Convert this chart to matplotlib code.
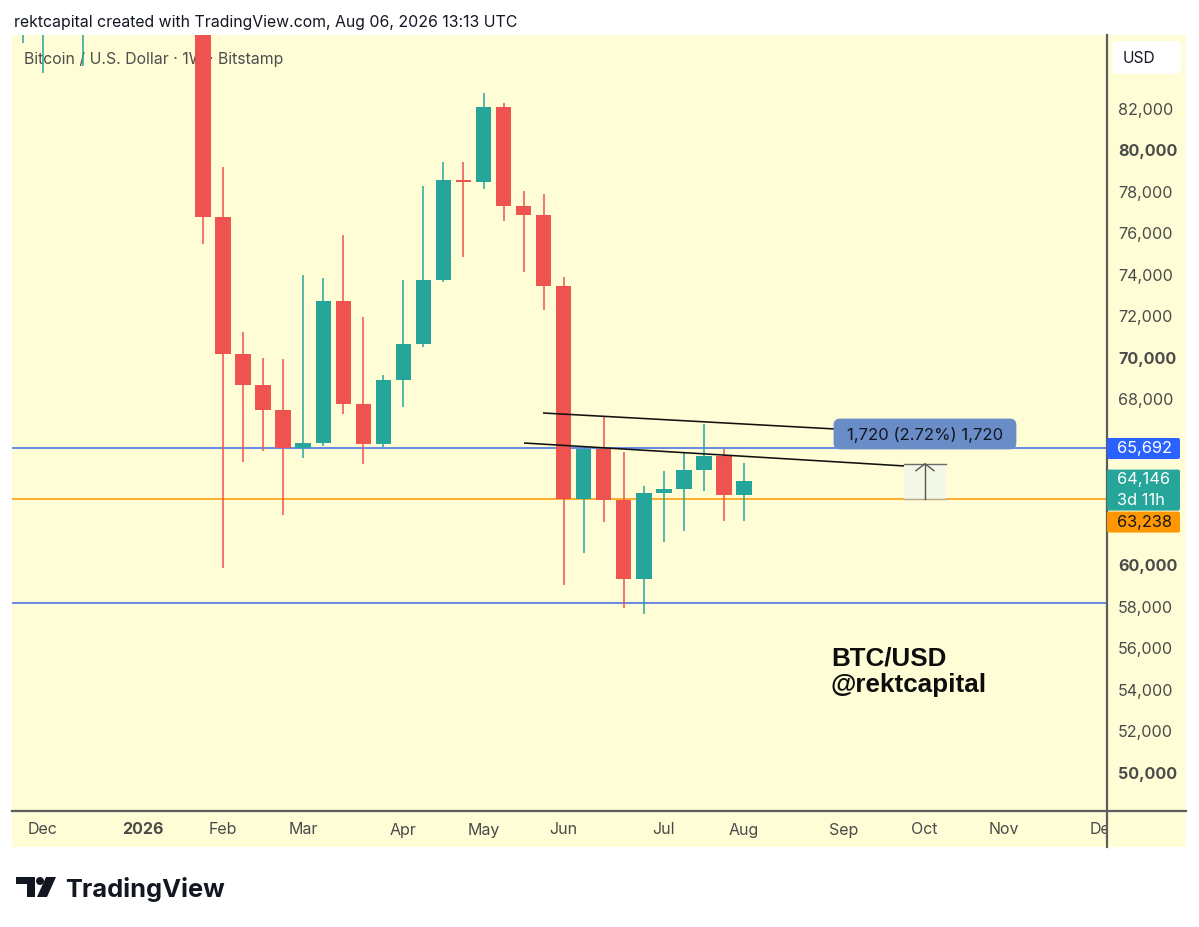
import matplotlib
matplotlib.use("Agg")
import matplotlib.pyplot as plt
from matplotlib.patches import Rectangle, FancyBboxPatch, Polygon, Circle
import numpy as np
import pandas as pd

# ---------------- data ----------------
week_start = ["2025-11-24", "2025-12-01", "2025-12-15", "2026-01-26",
              "2026-02-02", "2026-02-09", "2026-02-16", "2026-02-23",
              "2026-03-02", "2026-03-09", "2026-03-16", "2026-03-23", "2026-03-30",
              "2026-04-06", "2026-04-13", "2026-04-20", "2026-04-27",
              "2026-05-04", "2026-05-11", "2026-05-18", "2026-05-25",
              "2026-06-01", "2026-06-08", "2026-06-15", "2026-06-22", "2026-06-29",
              "2026-07-06", "2026-07-13", "2026-07-20", "2026-07-27", "2026-08-03"]
open_ = [87400, 86800, 86400, 89000,
         76870, 70250, 68750, 67550,
         65720, 65960, 72800, 67840, 65910,
         68990, 70730, 73810, 78630,
         78540, 82150, 77380, 76950,
         73530, 63238, 65670, 63210, 59400,
         63550, 63740, 64660, 65330, 63450]
high = [93000, 94000, 90000, 90500,
        79260, 71310, 70050, 70010,
        74060, 73910, 75980, 72030, 69240,
        73810, 78350, 79500, 79500,
        82830, 82350, 78100, 77960,
        73960, 65700, 67260, 65520, 63890,
        64610, 65480, 66870, 65670, 64990]
low = [85240, 83790, 84130, 75550,
       59930, 65040, 65570, 62490,
       65230, 65810, 67360, 64950, 65760,
       67690, 70590, 73720, 74920,
       78200, 76660, 74200, 72370,
       59110, 60660, 62150, 58000, 57720,
       61190, 61720, 63640, 62200, 62200]
close = [90300, 89600, 88200, 76870,
         70250, 68750, 67550, 65720,
         65960, 72800, 67840, 65910, 68990,
         70730, 73810, 78630, 78540,
         82150, 77380, 76950, 73530,
         63238, 65670, 63210, 59400, 63550,
         63740, 64660, 65330, 63450, 64146]

price_ticks = [50000, 52000, 54000, 56000, 58000, 60000, 62000, 64000, 66000,
               68000, 70000, 72000, 74000, 76000, 78000, 80000, 82000]
bold_ticks = [50000, 60000, 70000, 80000]

month_labels = ["Dec", "2026", "Feb", "Mar", "Apr", "May", "Jun", "Jul", "Aug",
                "Sep", "Oct", "Nov", "Dec"]
month_first_bar = ["2025-12-01", "2026-01-05", "2026-02-02", "2026-03-02", "2026-04-06",
                   "2026-05-04", "2026-06-01", "2026-07-06", "2026-08-03", "2026-09-07",
                   "2026-10-05", "2026-11-02", "2026-12-07"]

resistance_level = 65692
support_level = 58230
last_close_level = 63238
current_price = 64146
time_left = "3d 11h"

# trend lines: (bar index, price) endpoints
trend1_x = [19.97, 34.55]
trend1_y = [67403, 66632]
trend2_x = [19.02, 38.04]
trend2_y = [65957, 64849]
measure_from, measure_to = 63238, 64958
measure_x = [37.99, 40.09]
measure_text = "1,720 (2.72%) 1,720"

# ---------------- style ----------------
W, H = 1199, 927
BG = "#fefdd6"
RED = "#ef5350"
TEAL = "#26a69a"
BLUE = "#2962ff"
ORANGE = "#ff9800"
AXIS = "#5d5d5d"
TXT = "#4a4a4a"
FONT = ["Inter", "DejaVu Sans"]

plt.rcParams['font.family'] = FONT

fig = plt.figure(figsize=(W / 100, H / 100), dpi=100)
fig.patch.set_facecolor("white")


def fr(x0, y0, x1, y1):
    return [x0 / W, 1 - y1 / H, (x1 - x0) / W, (y1 - y0) / H]


# panel background (behind everything)
bgax = fig.add_axes([0, 0, 1, 1])
bgax.set_xlim(0, W)
bgax.set_ylim(H, 0)
bgax.axis("off")
bgax.set_zorder(-5)
bgax.add_patch(Rectangle((12, 35), 1186 - 12, 847 - 35, facecolor=BG, edgecolor="none"))

YMIN, YMAX = 48219, 85623
XMIN, XMAX = (12 - 143) / 20.03, (1107 - 143) / 20.03

ax = fig.add_axes(fr(12, 35, 1107, 811))
ax.set_facecolor("none")
ax.set_xlim(XMIN, XMAX)
ax.set_ylim(YMIN, YMAX)
ax.axis("off")
ax.set_zorder(1)

base = pd.Timestamp("2026-01-05")
idx = ((pd.to_datetime(week_start) - base).days / 7).to_numpy(dtype=float)
o = np.array(open_, float); h = np.array(high, float)
l = np.array(low, float); c = np.array(close, float)
cols = np.where(c >= o, TEAL, RED)

ax.vlines(idx, l, h, colors=cols, lw=1.1, zorder=3)
body = np.maximum(np.abs(c - o), 70)
ax.bar(idx, body, bottom=np.minimum(o, c), width=0.775, color=cols, linewidth=0, zorder=4)

# horizontal levels
ax.axhline(resistance_level, color="#3e6ae6", lw=1.1, zorder=2)
ax.axhline(support_level, color="#3e6ae6", lw=1.1, zorder=2)
ax.axhline(last_close_level, color=ORANGE, lw=1.1, zorder=2)

# trend lines
ax.plot(trend1_x, trend1_y, color="#111111", lw=1.15, zorder=5, solid_capstyle="butt")
ax.plot(trend2_x, trend2_y, color="#111111", lw=1.15, zorder=5, solid_capstyle="butt")

# measurement box
ax.add_patch(Rectangle((measure_x[0], measure_from), measure_x[1] - measure_x[0],
                       measure_to - measure_from, facecolor="#f3f7e6", edgecolor="none", zorder=5))
ax.plot(measure_x, [measure_to, measure_to], color="#6b6b6b", lw=1.0, zorder=6)
ax.plot(measure_x, [measure_from, measure_from], color="#b9a98a", lw=1.0, zorder=6)
mx = sum(measure_x) / 2
ax.plot([mx, mx], [measure_from, measure_to], color="#555555", lw=1.0, zorder=6)

# overlay in pixel coords
ov = fig.add_axes([0, 0, 1, 1])
ov.set_xlim(0, W)
ov.set_ylim(H, 0)
ov.axis("off")
ov.set_zorder(10)
fig.canvas.draw()


def to_px(x, y):
    dx, dy = ax.transData.transform((x, y))
    return dx, H - dy


# arrow head
ax_px, ay_px = to_px(mx, measure_to)
ov.plot([ax_px - 9, ax_px, ax_px + 9], [ay_px + 7, ay_px, ay_px + 7], color="#555555", lw=1.0)

# measure label
lx = ax_px
ov.add_patch(FancyBboxPatch((lx - 90, 420), 180, 28, boxstyle="round,pad=0,rounding_size=5",
                            facecolor="#6a8dc8", edgecolor="#6a8dc8", lw=2, zorder=3))
ov.text(lx, 435, measure_text, ha="center", va="center", fontsize=12, color="#131722", zorder=4)

# axis lines
ov.plot([1107, 1107], [35, 847], color=AXIS, lw=1.6)
ov.plot([12, 1186], [811, 811], color=AXIS, lw=1.6)


def price_box(y0, y1, color, lines, tcolor):
    ov.add_patch(FancyBboxPatch((1107, y0), 73, y1 - y0, boxstyle="round,pad=0,rounding_size=2",
                                facecolor=color, edgecolor="none", zorder=5))
    n = len(lines)
    step = (y1 - y0) / n
    for i, t in enumerate(lines):
        ov.text(1117, y0 + step * (i + 0.5), t, ha="left", va="center", fontsize=11.8,
                color=tcolor, zorder=6)


_, yr = to_px(XMAX, resistance_level)
_, ycur = to_px(XMAX, current_price)
boxes = [(yr - 10.5, yr + 10.5), (ycur - 11, ycur + 30), (ycur + 31, ycur + 52)]

# price scale ticks (skip those hidden behind the price labels)
for p in price_ticks:
    _, py = to_px(XMAX, p)
    hidden = any(b0 - 8 < py < b1 + 8 for b0, b1 in boxes)
    if 35 < py < 805 and not hidden:
        ov.text(1118, py, f"{p:,}", ha="left", va="center", fontsize=11.6, color=TXT,
                fontweight="bold" if p in bold_ticks else "normal", zorder=2)

price_box(*boxes[0], BLUE, [f"{resistance_level:,}"], "white")
price_box(*boxes[1], TEAL, [f"{current_price:,}", time_left], "white")
price_box(*boxes[2], ORANGE, [f"{last_close_level:,}"], "#131722")

# USD box
ov.add_patch(FancyBboxPatch((1112, 41), 69, 33, boxstyle="round,pad=0,rounding_size=5",
                            facecolor="white", edgecolor="none", zorder=5))
ov.text(1139, 58, "USD", ha="center", va="center", fontsize=11.2, color="#131722", zorder=6)

# time scale
axt = fig.add_axes(fr(12, 811, 1107, 847))
axt.set_xlim(XMIN, XMAX)
axt.set_ylim(36, 0)
axt.axis("off")
axt.set_zorder(2)
mi = ((pd.to_datetime(month_first_bar) - base).days / 7).to_numpy(dtype=float)
for m, x in zip(month_labels, mi):
    axt.text(x, 19, m, ha="center", va="center", fontsize=11.5, color=TXT, clip_on=True,
             fontweight="bold" if m == "2026" else "normal")

# header texts
ov.text(14, 22, "rektcapital created with TradingView.com, Aug 06, 2026 13:13 UTC",
        ha="left", va="center", fontsize=11.4, color="#131722")
bgax.text(24, 59, "Bitcoin / U.S. Dollar · 1W · Bitstamp", ha="left", va="center",
          fontsize=11.4, color="#4d4d4d")

# watermark
ov.text(831, 666, "BTC/USD", ha="left", va="baseline", fontsize=18.7, fontweight="bold",
        color="#0d0d0d", family=["Liberation Sans", "DejaVu Sans"])
ov.text(831, 692, "@rektcapital", ha="left", va="baseline", fontsize=18.7, fontweight="bold",
        color="#0d0d0d", family=["Liberation Sans", "DejaVu Sans"])

# TradingView logo
LOGO = "#131722"
ov.add_patch(Rectangle((16, 877), 19, 7, facecolor=LOGO, edgecolor="none"))
ov.add_patch(Rectangle((27, 877), 8, 20, facecolor=LOGO, edgecolor="none"))
ov.add_patch(Circle((40, 881), 4, facecolor=LOGO, edgecolor="none"))
ov.add_patch(Polygon([[46, 877], [56, 877], [47, 897], [37, 897]], closed=True,
                     facecolor=LOGO, edgecolor="none"))
ov.text(65, 897, "TradingView", ha="left", va="baseline", fontsize=18.3, fontweight="bold",
        color=LOGO)

fig.savefig("out.png", dpi=100, facecolor="white")
